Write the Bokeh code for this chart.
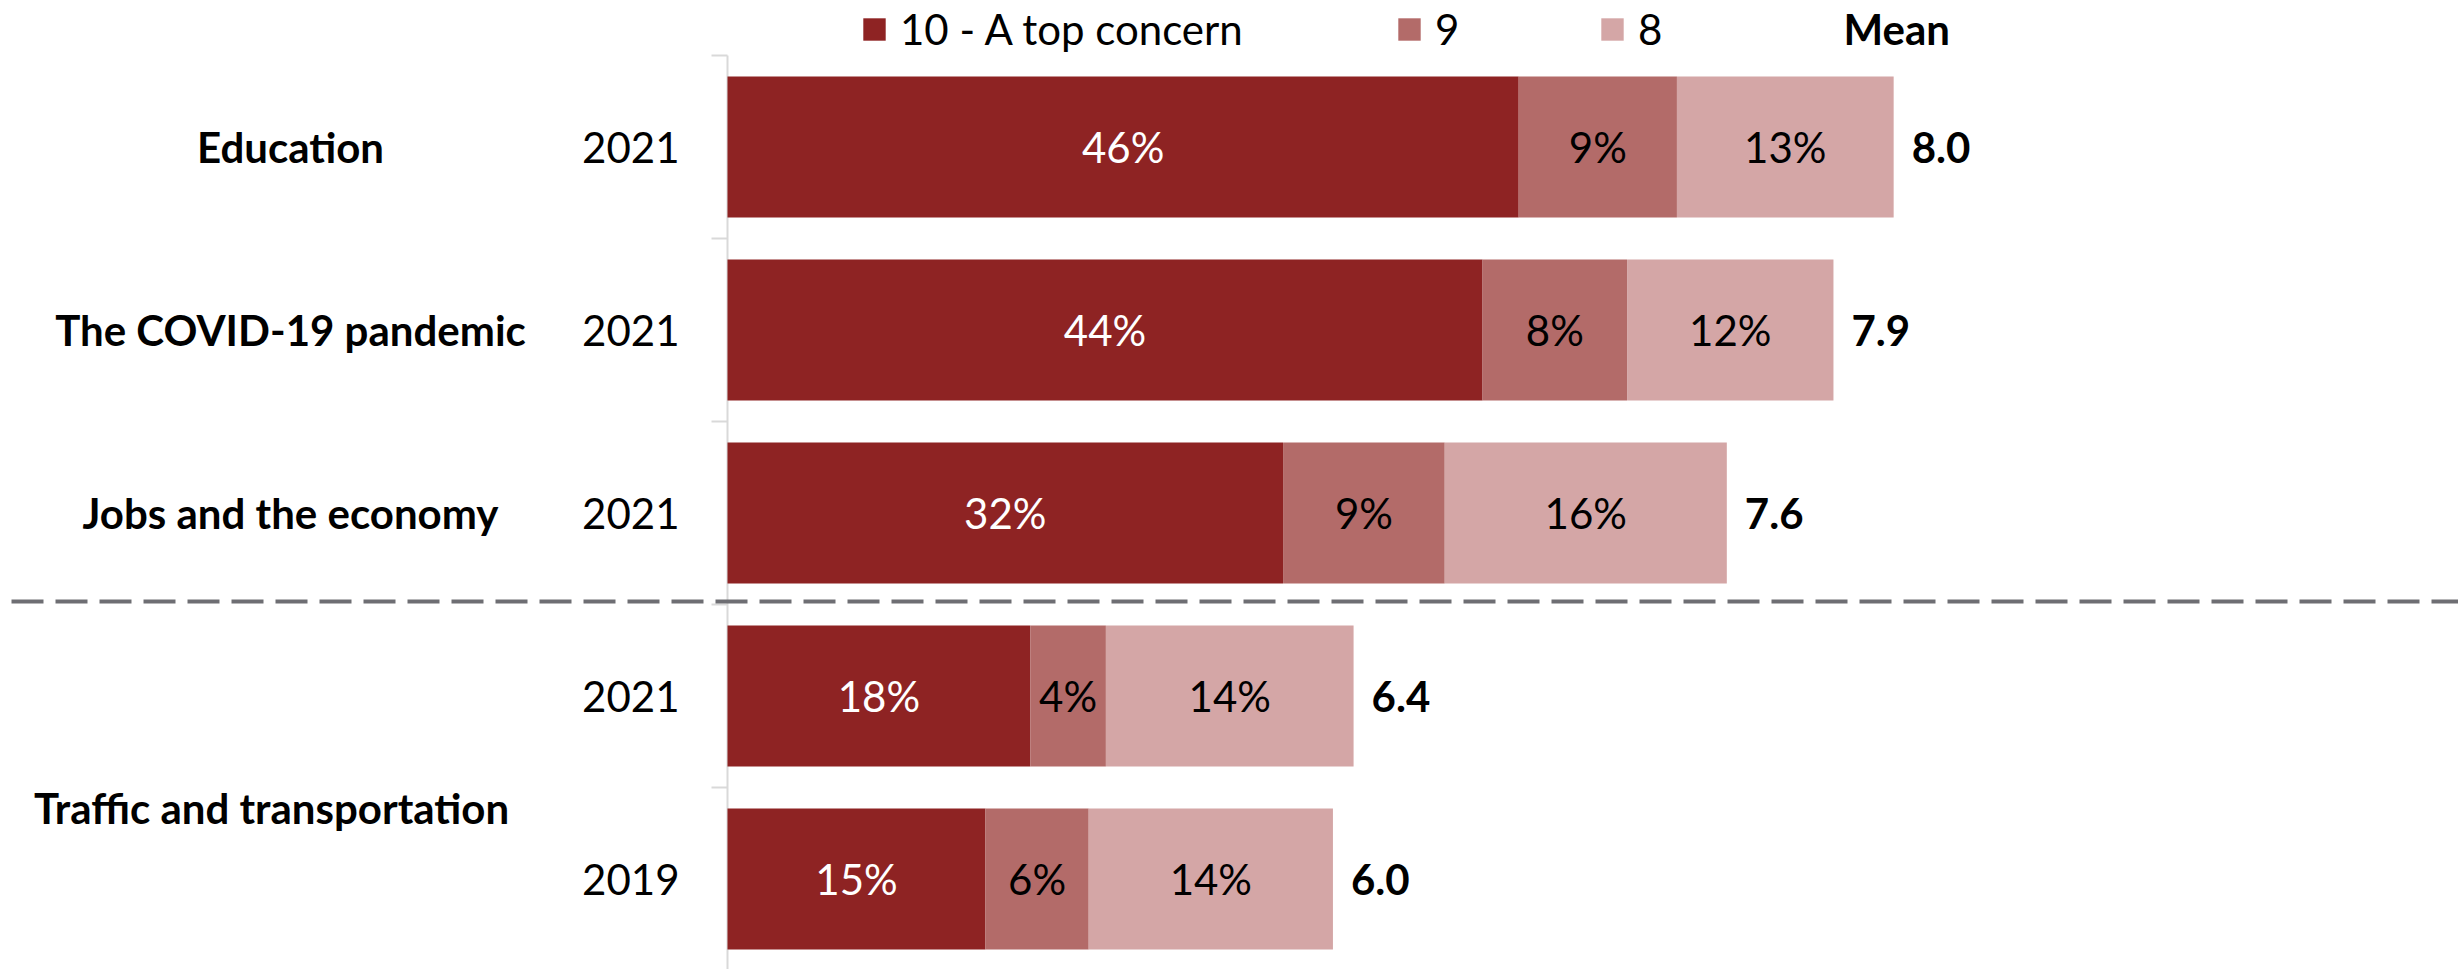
from bokeh.plotting import figure
from bokeh.models import ColumnDataSource, Range1d, Legend, LegendItem, Label
from bokeh.core.properties import value
from bokeh.embed import file_html
from bokeh.resources import INLINE

# ---------------- data ----------------
topics = ["Education", "The COVID-19 pandemic", "Jobs and the economy",
          "Traffic and transportation", "Traffic and transportation"]
years = ["2021", "2021", "2021", "2021", "2019"]
top10 = [46.0, 43.9, 32.3, 17.6, 15.0]   # 10 - A top concern
nine = [9.2, 8.4, 9.4, 4.4, 6.0]         # 9
eight = [12.6, 12.0, 16.4, 14.4, 14.2]   # 8
means = [8.0, 7.9, 7.6, 6.4, 6.0]
series_names = ["10 - A top concern", "9", "8"]
topic_labels = ["Education", "The COVID-19 pandemic", "Jobs and the economy",
                "Traffic and transportation"]
topic_rows = [0, 1, 2, 3.61]

# ---------------- style ----------------
COLORS = ["#8E2323", "#B36B69", "#D4A6A6"]
TXT_COL = ["white", "black", "black"]
FONT = "Lato"
FS = "42px"
LEG_FS = "42px"

W, H = 2458, 969
PX_PER_PCT = 17.2
AXIS_X = 727
ROW0 = 146.5
ROW_H = 183.0

x0 = -AXIS_X / PX_PER_PCT
x1 = (W - AXIS_X) / PX_PER_PCT
y_top = -ROW0 / ROW_H
y_bot = (H - ROW0) / ROW_H

p = figure(width=W, height=H, x_range=Range1d(x0, x1), y_range=Range1d(y_bot, y_top),
           output_backend="svg", toolbar_location=None, x_axis_type=None, y_axis_type=None,
           min_border=0, min_border_left=0, min_border_right=0, min_border_top=0,
           min_border_bottom=0, outline_line_color=None)
p.grid.visible = False
p.background_fill_color = "white"

n = len(years)
rows = list(range(n))
stack = [top10, nine, eight]
lefts = []
acc = [0.0] * n
for s in stack:
    lefts.append(list(acc))
    acc = [a + v for a, v in zip(acc, s)]
totals = acc

# axis line and separators
p.segment(x0=[0], y0=[-0.5], x1=[0], y1=[y_bot], line_color="#D9D9D9", line_width=2)
sep = [-0.5, 0.5, 1.5, 2.5, 3.5]
p.segment(x0=[-16 / PX_PER_PCT] * len(sep), y0=sep, x1=[0] * len(sep), y1=sep,
          line_color="#D9D9D9", line_width=2)

renderers = []
for k, s in enumerate(stack):
    src = ColumnDataSource(dict(
        y=rows, left=lefts[k], right=[l + v for l, v in zip(lefts[k], s)],
        xm=[l + v / 2 for l, v in zip(lefts[k], s)],
        lab=[f"{round(v)}%" for v in s]))
    r = p.hbar(y="y", left="left", right="right", height=0.77, source=src,
               fill_color=COLORS[k], line_color=None)
    renderers.append(r)
    p.text(x="xm", y="y", text="lab", source=src, text_align="center",
           text_baseline="middle", text_color=TXT_COL[k], text_font=value(FONT),
           text_font_size=FS)

# mean labels
msrc = ColumnDataSource(dict(x=totals, y=rows, lab=[f"{m:.1f}" for m in means]))
p.text(x="x", y="y", text="lab", source=msrc, x_offset=18, text_align="left",
       text_baseline="middle", text_font=value(FONT), text_font_size=FS,
       text_font_style="bold", text_color="black")

# year labels
ysrc = ColumnDataSource(dict(x=[0] * n, y=rows, lab=years))
p.text(x="x", y="y", text="lab", source=ysrc, x_offset=-48, text_align="right",
       text_baseline="middle", text_font=value(FONT), text_font_size=FS, text_color="black")

# topic labels
tsrc = ColumnDataSource(dict(x=[0] * len(topic_labels), y=topic_rows, lab=topic_labels,
                             off=[-437, -437, -437, -456]))
p.text(x="x", y="y", text="lab", source=tsrc, x_offset="off", text_align="center",
       text_baseline="middle", text_font=value(FONT), text_font_size=FS,
       text_font_style="bold", text_color="black")

# dashed divider
dy = (601 - ROW0) / ROW_H
p.segment(x0=[(11 - AXIS_X) / PX_PER_PCT], y0=[dy], x1=[x1], y1=[dy],
          line_color="#6E6E73", line_width=4, line_dash="32 12")

# legends
leg_x = [860, 1395, 1598]
for k in range(3):
    lg = Legend(items=[LegendItem(label=series_names[k], renderers=[renderers[k]])],
                location=(leg_x[k], 915), orientation="horizontal",
                glyph_width=28, glyph_height=28, label_standoff=12,
                label_text_font=FONT, label_text_font_size=LEG_FS, label_height=27,
                label_text_color="black",
                padding=0, margin=0, border_line_color=None, background_fill_alpha=0)
    p.add_layout(lg)

p.add_layout(Label(x=1843, y=H - 28.5, x_units="screen", y_units="screen",
                   text="Mean", text_font=FONT, text_font_size=FS, text_font_style="bold",
                   text_baseline="middle", text_align="left", text_color="black"))

open("out.html", "w").write(file_html(p, INLINE))
